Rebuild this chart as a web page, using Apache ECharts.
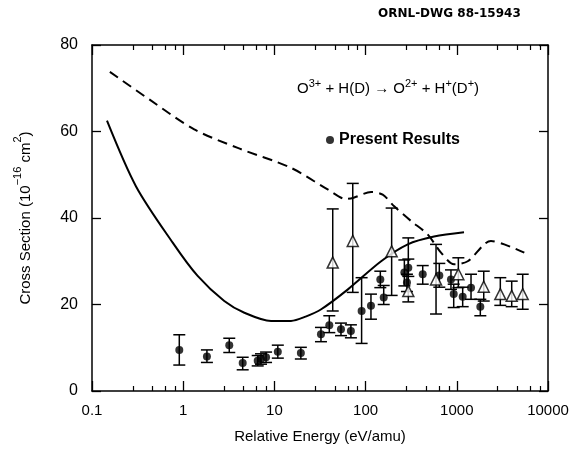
<!DOCTYPE html>
<html>
<head>
<meta charset="utf-8">
<script src="https://cdn.jsdelivr.net/npm/echarts@6/dist/echarts.min.js"></script>
<style>
html,body{margin:0;padding:0;background:#fff;}
#chart{width:577px;height:449px;}
</style>
</head>
<body>
<div id="chart"></div>
<script>
// ---- data (x in eV/amu, y in 1e-16 cm^2) ----
const theorySolid = [[0.146,62.5],[0.304,47.3],[0.767,34.3],[1.44,26.6],[2.82,20.8],[4.68,18.1],[9.19,16.2],[15.2,16.2],[22,17.2],[32.6,18.9],[64,23.5],[148,30],[290,33.9],[563,35.7],[1200,36.7]];
const theoryDashed = [[0.157,73.8],[0.433,67.3],[1.32,60.5],[3.96,56.2],[15.2,51.6],[38.4,46.6],[61,44.4],[74,44.7],[115,46],[154,45.4],[206,42.7],[315,39.3],[479,36.2],[671,32],[933,29.3],[1318,30],[2371,34.7],[3317,33.9],[5500,32]];
// present results: [x, y, low, high]
const presentX  = [0.906,1.82,3.2,4.49,6.56,7.13,8.1,10.9,19.5,32.4,40,53.7,69,90.4,114.5,145,158,266,294,284,423,643,863,925,1160,1432,1811];
const presentY  = [9.5,8.0,10.6,6.5,7.0,7.4,7.8,9.1,8.8,13.1,15.2,14.3,13.9,18.5,19.7,25.8,21.6,27.4,28.5,25.1,27.0,26.7,25.8,22.4,21.8,23.9,19.5];
const presentLo = [6.0,6.6,8.9,4.9,5.8,6.2,6.6,7.6,7.4,11.4,13.5,12.8,12.3,11.0,16.6,23.9,20.0,24.3,26.5,23.0,24.7,24.0,23.5,19.3,19.5,21.2,17.4];
const presentHi = [13.0,9.5,12.2,7.8,8.2,8.6,9.0,10.6,10.1,14.7,17.4,15.7,15.3,26.2,22.4,27.7,24.4,30.3,30.5,27.0,29.0,29.5,28.0,24.7,24.0,27.0,21.2];
// other measurements (open triangles)
const otherX  = [43.6,72.3,193,294,592,1040,1974,3000,4000,5280];
const otherY  = [29.7,34.7,32.3,23.1,25.8,27.0,24.1,22.4,22.0,22.4];
const otherLo = [18.5,22.8,22.1,20.6,17.8,23.9,20.8,19.8,19.5,18.9];
const otherHi = [42.1,48.0,42.3,35.4,33.9,30.8,27.7,26.2,25.4,27.0];
const xTickLabels = ['0.1','1','10','100','1000','10000'];
const yTicks = [0,20,40,60,80];

const chart = echarts.init(document.getElementById('chart'), null, {renderer:'canvas'});
const FONT = 'Liberation Sans';
const black = '#000';

function errRender(params, api) {
  const x = api.value(0), lo = api.value(1), hi = api.value(2);
  const p1 = api.coord([x, hi]), p2 = api.coord([x, lo]);
  const w = 6, st = {stroke: black, lineWidth: 1.5};
  return {type:'group', children:[
    {type:'line', shape:{x1:p1[0], y1:p1[1], x2:p2[0], y2:p2[1]}, style:st},
    {type:'line', shape:{x1:p1[0]-w, y1:p1[1], x2:p1[0]+w, y2:p1[1]}, style:st},
    {type:'line', shape:{x1:p2[0]-w, y1:p2[1], x2:p2[0]+w, y2:p2[1]}, style:st}
  ]};
}

const xBase = {
  type:'log', logBase:10, min:0.1, max:10000,
  axisLine:{show:true, onZero:false, lineStyle:{color:black, width:1.5}},
  axisTick:{show:true, inside:true, length:10, lineStyle:{color:black, width:1.3}},
  minorTick:{show:true, length:5, lineStyle:{color:black, width:1.2}},
  splitLine:{show:false},
  minorSplitLine:{show:false}
};
const yBase = {
  type:'value', min:0, max:80, interval:20,
  axisLine:{show:true, onZero:false, lineStyle:{color:black, width:1.5}},
  axisTick:{show:true, inside:true, length:9, lineStyle:{color:black, width:1.3}},
  splitLine:{show:false}
};

chart.setOption({
  animation:false,
  backgroundColor:'#fff',
  textStyle:{fontFamily:FONT, color:black},
  grid:{left:92, right:29, top:45, bottom:57, containLabel:false},
  legend:{
    data:['Present Results'], left:326, top:132, padding:0, icon:'circle', itemWidth:8, itemHeight:8,
    itemGap:7, textStyle:{fontFamily:FONT, fontSize:16, color:black, fontWeight:'bold'}
  },
  xAxis:[
    Object.assign({}, xBase, {
      position:'bottom',
      name:'Relative Energy (eV/amu)', nameLocation:'middle', nameGap:38,
      nameTextStyle:{fontFamily:FONT, fontSize:15, color:black},
      axisLabel:{show:true, margin:12, fontSize:15, color:black, fontFamily:FONT,
        formatter: v => xTickLabels[Math.round(Math.log10(v)) + 1]}
    }),
    Object.assign({}, xBase, {position:'top', axisLabel:{show:false}})
  ],
  yAxis:[
    Object.assign({}, yBase, {
      position:'left',
      name:'Cross Section (10{sup|−16} cm{sup|2})', nameLocation:'middle', nameGap:52,
      nameRotate:90,
      nameTextStyle:{fontFamily:FONT, fontSize:15, color:black,
        rich:{sup:{fontFamily:FONT, fontSize:11, color:black, verticalAlign:'top', lineHeight:28}}},
      axisLabel:{show:true, margin:14, fontSize:16, color:black, fontFamily:FONT,
        formatter: v => String(yTicks[yTicks.indexOf(v)])}
    }),
    Object.assign({}, yBase, {position:'right', axisLabel:{show:false}})
  ],
  graphic:[
    {type:'text', left:297, top:78, style:{
      text:'O{sup|3+} + H(D) → O{sup|2+} + H{sup|+}(D{sup|+})',
      font:'15px ' + FONT, fill:black,
      rich:{sup:{fontSize:11, fontFamily:FONT, fill:black, verticalAlign:'top', lineHeight:22}}
    }},
    {type:'text', left:378, top:8, style:{
      text:'ORNL-DWG 88-15943', font:'bold 12px "DejaVu Sans"', fill:black
    }}
  ],
  series:[
    {type:'line', name:'theory solid', data:theorySolid, showSymbol:false, smooth:0.3,
      lineStyle:{color:black, width:2}, z:2},
    {type:'line', name:'theory dashed', data:theoryDashed, showSymbol:false, smooth:0.3,
      lineStyle:{color:black, width:2, type:[10,6]}, z:2},
    {type:'custom', name:'err present', renderItem:errRender,
      data:presentX.map((x,i)=>[x, presentLo[i], presentHi[i]]), encode:{x:0, y:[1,2]}, z:3},
    {type:'custom', name:'err other', renderItem:errRender,
      data:otherX.map((x,i)=>[x, otherLo[i], otherHi[i]]), encode:{x:0, y:[1,2]}, z:3},
    {type:'scatter', name:'Present Results', data:presentX.map((x,i)=>[x, presentY[i]]),
      symbol:'circle', symbolSize:8, itemStyle:{color:black}, z:5},
    {type:'scatter', name:'Other', data:otherX.map((x,i)=>[x, otherY[i]]),
      symbol:'triangle', symbolSize:11, itemStyle:{color:'#fff', borderColor:black, borderWidth:1.5}, z:5}
  ]
});
</script>
</body>
</html>
